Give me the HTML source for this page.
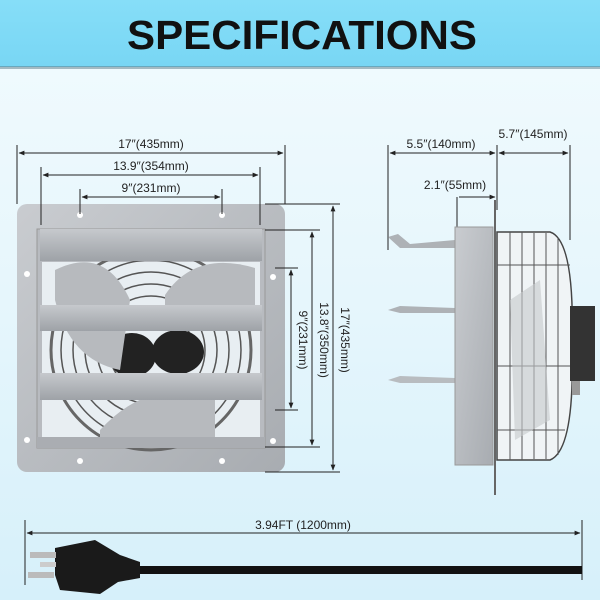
<!DOCTYPE html>
<html><head><meta charset="utf-8"><style>
html,body{margin:0;padding:0;width:600px;height:600px;overflow:hidden;}
body{background:linear-gradient(180deg,#f2fbfe 0%,#e6f6fc 50%,#d6f0fa 100%);}
text{font-family:"Liberation Sans",sans-serif;}
</style></head><body>
<svg width="600" height="600" viewBox="0 0 600 600" xmlns="http://www.w3.org/2000/svg">
<defs>
<linearGradient id="hd" x1="0" y1="0" x2="0" y2="1"><stop offset="0" stop-color="#86def8"/><stop offset="1" stop-color="#78d6f4"/></linearGradient>
<linearGradient id="mt" x1="0" y1="0" x2="1" y2="1"><stop offset="0" stop-color="#c9ccd0"/><stop offset="1" stop-color="#a8acb1"/></linearGradient>
<linearGradient id="lv" x1="0" y1="0" x2="0" y2="1"><stop offset="0" stop-color="#c6c9cd"/><stop offset="1" stop-color="#9ea2a7"/></linearGradient>
<marker id="a" viewBox="0 0 10 10" refX="9" refY="5" markerWidth="6" markerHeight="6" orient="auto-start-reverse"><path d="M0,1 L10,5 L0,9z" fill="#222"/></marker>
</defs>
<rect x="0" y="0" width="600" height="67" fill="url(#hd)"/>
<rect x="0" y="66" width="600" height="3" fill="#5a7a88" opacity="0.5"/>
<text x="302" y="49" text-anchor="middle" font-size="41" font-weight="bold" fill="#111" textLength="350" lengthAdjust="spacingAndGlyphs">SPECIFICATIONS</text>

<rect x="17" y="204" width="268" height="268" rx="10" fill="url(#mt)"/>
<rect x="37" y="229" width="228" height="219" fill="#b8bbc0" stroke="#999" />
<rect x="42" y="262" width="218" height="182" fill="#e8eef2"/>
<circle cx="151" cy="350" r="100" fill="none" stroke="#666" stroke-width="3"/>
<g stroke="#555" fill="none" stroke-width="1.5">
<circle cx="151" cy="350" r="90"/><circle cx="151" cy="350" r="78"/><circle cx="151" cy="350" r="66"/><circle cx="151" cy="350" r="54"/><circle cx="151" cy="350" r="42"/>
</g>
<ellipse cx="132" cy="355" rx="24" ry="22" fill="#222"/><ellipse cx="178" cy="352" rx="26" ry="22" fill="#222"/>
<path d="M55 270 Q105 245 130 300 L120 370 Q70 360 55 300z" fill="#b7babe"/>
<path d="M165 295 Q195 250 255 268 L255 310 Q210 330 165 320z" fill="#b7babe"/>
<path d="M100 430 Q150 375 215 400 L215 440 L100 440z" fill="#b7babe"/>
<rect x="40" y="229" width="222" height="32" fill="url(#lv)"/>
<rect x="40" y="305" width="222" height="26" fill="url(#lv)"/>
<rect x="40" y="373" width="222" height="27" fill="url(#lv)"/>
<rect x="37" y="437" width="228" height="11" fill="#aaadb2"/>
<g fill="#fff"><circle cx="80" cy="215" r="3"/><circle cx="222" cy="215" r="3"/><circle cx="80" cy="461" r="3"/><circle cx="222" cy="461" r="3"/><circle cx="27" cy="274" r="3"/><circle cx="27" cy="440" r="3"/><circle cx="273" cy="277" r="3"/><circle cx="273" cy="441" r="3"/></g>

<g stroke="#222" stroke-width="1" fill="none">
<line x1="17" y1="145" x2="17" y2="204"/><line x1="285" y1="145" x2="285" y2="204"/>
<line x1="41" y1="167" x2="41" y2="225"/><line x1="260" y1="167" x2="260" y2="225"/>
<line x1="80" y1="189" x2="80" y2="214"/><line x1="222" y1="189" x2="222" y2="214"/>
<line x1="19" y1="153" x2="283" y2="153" marker-start="url(#a)" marker-end="url(#a)"/>
<line x1="43" y1="175" x2="258" y2="175" marker-start="url(#a)" marker-end="url(#a)"/>
<line x1="82" y1="197" x2="220" y2="197" marker-start="url(#a)" marker-end="url(#a)"/>
<line x1="265" y1="204" x2="340" y2="204"/><line x1="265" y1="472" x2="340" y2="472"/>
<line x1="265" y1="230" x2="320" y2="230"/><line x1="265" y1="447" x2="320" y2="447"/>
<line x1="275" y1="268" x2="298" y2="268"/><line x1="275" y1="410" x2="298" y2="410"/>
<line x1="333" y1="206" x2="333" y2="470" marker-start="url(#a)" marker-end="url(#a)"/>
<line x1="312" y1="232" x2="312" y2="445" marker-start="url(#a)" marker-end="url(#a)"/>
<line x1="291" y1="270" x2="291" y2="408" marker-start="url(#a)" marker-end="url(#a)"/>
</g>
<g font-size="12" fill="#222" text-anchor="middle">
<text x="151" y="148">17″(435mm)</text>
<text x="151" y="170">13.9″(354mm)</text>
<text x="151" y="192">9″(231mm)</text>
<text transform="translate(341,340) rotate(90)">17″(435mm)</text>
<text transform="translate(320,340) rotate(90)">13.8″(350mm)</text>
<text transform="translate(299,340) rotate(90)">9″(231mm)</text>
<text x="441" y="148">5.5″(140mm)</text>
<text x="533" y="138">5.7″(145mm)</text>
<text x="455" y="189">2.1″(55mm)</text>
<text x="303" y="529">3.94FT (1200mm)</text>
</g>

<g stroke="#222" stroke-width="1" fill="none">
<line x1="388" y1="145" x2="388" y2="250"/><line x1="497" y1="145" x2="497" y2="210"/><line x1="570" y1="145" x2="570" y2="240"/>
<line x1="457" y1="197" x2="457" y2="228"/>
<line x1="390" y1="153" x2="495" y2="153" marker-start="url(#a)" marker-end="url(#a)"/>
<line x1="499" y1="153" x2="568" y2="153" marker-start="url(#a)" marker-end="url(#a)"/>
<line x1="459" y1="197" x2="495" y2="197" marker-end="url(#a)"/>
</g>
<line x1="495" y1="200" x2="495" y2="495" stroke="#666" stroke-width="2"/>
<path d="M388 237 L398 234 L410 244 L455 240 L455 248 L400 248z" fill="#aeb2b6"/>
<path d="M388 310 L400 306 L455 308 L455 313 L400 313z" fill="#aeb2b6"/>
<path d="M388 380 L400 376 L455 378 L455 383 L400 383z" fill="#b8bcc0"/>
<rect x="455" y="227" width="38" height="238" fill="url(#mt)" stroke="#999"/>
<path d="M497 232 L550 232 Q575 240 572 345 Q575 450 550 460 L497 460z" fill="#f0f4f6" stroke="#444" stroke-width="1.5"/>
<g stroke="#555" stroke-width="1" fill="none">
<line x1="510" y1="232" x2="510" y2="460"/><line x1="522" y1="232" x2="522" y2="460"/><line x1="534" y1="233" x2="534" y2="459"/><line x1="546" y1="233" x2="546" y2="459"/><line x1="558" y1="238" x2="558" y2="455"/>
<line x1="497" y1="265" x2="570" y2="265"/><line x1="497" y1="366" x2="570" y2="366"/><line x1="497" y1="430" x2="565" y2="430"/>
</g>
<path d="M510 300 L540 280 L550 420 L515 440z" fill="#c4c8cc" opacity="0.6"/>
<rect x="570" y="306" width="25" height="75" fill="#333"/>
<rect x="572" y="381" width="8" height="14" fill="#999"/>

<g stroke="#222" stroke-width="1" fill="none">
<line x1="25" y1="520" x2="25" y2="585"/><line x1="582" y1="520" x2="582" y2="580"/>
<line x1="27" y1="533" x2="580" y2="533" marker-start="url(#a)" marker-end="url(#a)"/>
</g>
<rect x="130" y="566" width="452" height="8" fill="#111"/>
<path d="M55 548 L95 540 L120 555 L140 562 L140 578 L118 582 L100 594 L60 590 L55 575z" fill="#1a1a1a"/>
<rect x="30" y="552" width="26" height="6" fill="#bbb"/>
<rect x="28" y="572" width="26" height="6" fill="#bbb"/>
<rect x="40" y="562" width="16" height="5" fill="#ccc"/>
</svg>
</body></html>
